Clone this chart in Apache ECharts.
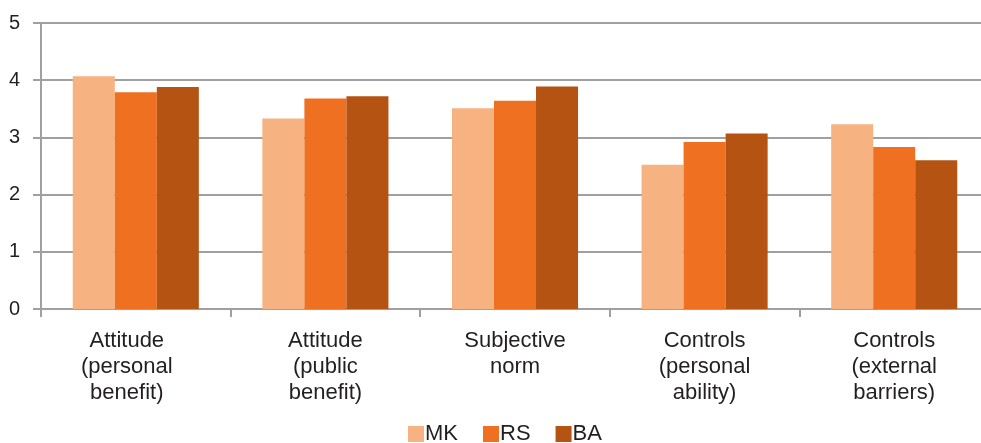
<!DOCTYPE html>
<html>
<head>
<meta charset="utf-8">
<script src="https://cdn.jsdelivr.net/npm/echarts@6/dist/echarts.min.js"></script>
<style>
  html, body { margin: 0; padding: 0; background: #fff; overflow: hidden; }
  /* the plot runs a little past the right edge of the window */
  #chart { width: 989px; height: 443px; }
</style>
</head>
<body>
<div id="chart"></div>
<script>
// Mean scores per construct for three countries
const categories = [
  'Attitude\n(personal\nbenefit)',
  'Attitude\n(public\nbenefit)',
  'Subjective\nnorm',
  'Controls\n(personal\nability)',
  'Controls\n(external\nbarriers)'
];
const seriesNames = ['MK', 'RS', 'BA'];
const valuesMK = [4.07, 3.33, 3.51, 2.52, 3.23];
const valuesRS = [3.79, 3.68, 3.64, 2.92, 2.83];
const valuesBA = [3.88, 3.72, 3.89, 3.07, 2.60];
const yTicks = { min: 0, max: 5, interval: 1 };

const colors = ['#F7B282', '#F07022', '#B45312'];
const textColor = '#231F20';
const lineColor = '#A0A0A0';
const sans = '"Liberation Sans", Arial, sans-serif';

const chart = echarts.init(document.getElementById('chart'), null, { renderer: 'canvas' });

const allValues = [valuesMK, valuesRS, valuesBA];

chart.setOption({
  animation: false,
  backgroundColor: '#ffffff',
  color: colors,
  grid: { left: 41, right: 0, top: 23, bottom: 134, containLabel: false },
  legend: {
    data: seriesNames,
    left: 408,
    top: 421,
    padding: 0,
    icon: 'rect',
    itemWidth: 16,
    itemHeight: 16,
    itemGap: 25,
    textStyle: {
      fontFamily: sans,
      fontSize: 22,
      lineHeight: 26,
      color: textColor,
      padding: [0, 0, 0, -4]
    }
  },
  xAxis: {
    type: 'category',
    data: categories,
    boundaryGap: true,
    axisLine: { show: true, lineStyle: { color: lineColor, width: 2 } },
    axisTick: { show: true, length: 8, alignWithLabel: false, lineStyle: { color: lineColor, width: 2 } },
    axisLabel: {
      interval: 0,
      margin: 19,
      fontFamily: sans,
      fontSize: 22,
      lineHeight: 26,
      color: textColor,
      // the first label sits slightly left of its slot
      formatter: (value, index) => index === 0 ? '{shift|' + value + '}' : value,
      rich: {
        shift: { fontFamily: sans, fontSize: 22, lineHeight: 26, color: textColor, padding: [0, 18, 0, 0] }
      }
    },
    splitLine: { show: false }
  },
  yAxis: {
    type: 'value',
    min: yTicks.min,
    max: yTicks.max,
    interval: yTicks.interval,
    axisLine: { show: true, lineStyle: { color: lineColor, width: 2 } },
    axisTick: { show: true, length: 8, lineStyle: { color: lineColor, width: 2 } },
    axisLabel: {
      margin: 21,
      fontFamily: sans,
      fontSize: 20,
      color: textColor
    },
    splitLine: { show: true, lineStyle: { color: lineColor, width: 2 } }
  },
  series: seriesNames.map((name, i) => ({
    name: name,
    type: 'bar',
    data: allValues[i],
    barGap: '0%',
    barCategoryGap: '33.5%',
    itemStyle: { color: colors[i] }
  }))
});
</script>
</body>
</html>
